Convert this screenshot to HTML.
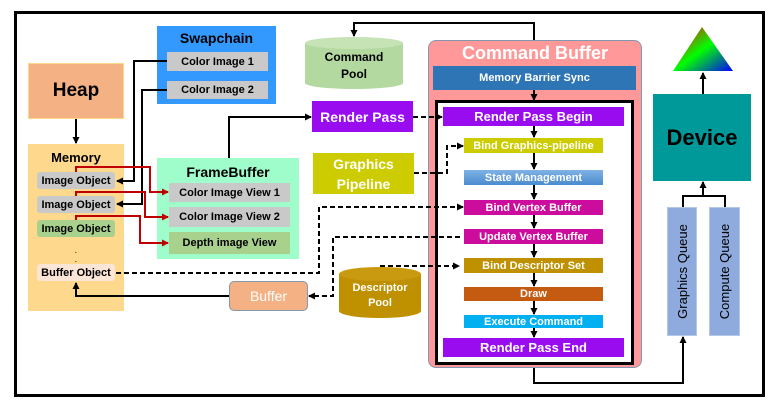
<!DOCTYPE html>
<html><head><meta charset="utf-8"><style>
body{margin:0;width:772px;height:408px;background:#fff;position:relative;overflow:hidden;font-family:"Liberation Sans",sans-serif;font-weight:bold}
.b{position:absolute;box-sizing:border-box;display:flex;align-items:center;justify-content:center;text-align:center;white-space:nowrap}
.s{font-size:11px}
svg{position:absolute;left:0;top:0}
</style></head><body>
<div class="b" style="left:14px;top:11px;width:751px;height:386px;border:3px solid #000"></div>
<div class="b" style="left:28px;top:63px;width:96px;height:56px;background:#f4b183;border:1px solid #fdd88c;font-size:19px">Heap</div>
<div class="b" style="left:28px;top:144px;width:96px;height:167px;background:#fed88c;align-items:flex-start;padding-top:6px;font-size:13px">Memory</div>
<div class="b s" style="left:37px;top:172px;width:78px;height:17px;background:#c9c9c9;border-radius:3px">Image Object</div>
<div class="b s" style="left:37px;top:196px;width:78px;height:17px;background:#c9c9c9;border-radius:3px">Image Object</div>
<div class="b s" style="left:37px;top:220px;width:78px;height:17px;background:#a9d18e;border-radius:3px">Image Object</div>
<div class="b s" style="left:37px;top:264px;width:78px;height:17px;background:#fbe5d6;border-radius:3px">Buffer Object</div>
<div class="b" style="left:157px;top:26px;width:119px;height:78px;background:#3399ff;align-items:flex-start;padding-top:4px;font-size:14px">Swapchain</div>
<div class="b s" style="left:167px;top:52px;width:101px;height:19px;background:#c9c9c9">Color Image 1</div>
<div class="b s" style="left:167px;top:81px;width:101px;height:18px;background:#c9c9c9">Color Image 2</div>
<div class="b" style="left:157px;top:158px;width:142px;height:101px;background:#9ffccb;align-items:flex-start;padding-top:6px;font-size:14px">FrameBuffer</div>
<div class="b s" style="left:169px;top:183px;width:121px;height:19px;background:#c9c9c9">Color Image View 1</div>
<div class="b s" style="left:169px;top:207px;width:121px;height:20px;background:#c9c9c9">Color Image View 2</div>
<div class="b s" style="left:169px;top:232px;width:121px;height:22px;background:#a9d18e">Depth image View</div>
<div class="b" style="left:312px;top:101px;width:101px;height:31px;background:#9a0cf0;color:#fff;font-size:14px">Render Pass</div>
<div class="b" style="left:313px;top:153px;width:101px;height:41px;background:#cccc00;color:#fff;font-size:14px;white-space:normal;line-height:20px">Graphics Pipeline</div>
<div class="b" style="left:229px;top:281px;width:79px;height:30px;background:#f4b183;border:1px solid #8497b0;border-radius:5px;color:#fff;font-size:14px;font-weight:normal">Buffer</div>
<svg width="772" height="408">
<defs><linearGradient id="g" x1="0" y1="0" x2="1" y2="1"><stop offset="0" stop-color="#ff0000"/><stop offset=".5" stop-color="#00ff00"/><stop offset="1" stop-color="#0000ff"/></linearGradient></defs>
<ellipse cx="354" cy="83" rx="49" ry="6" fill="#b3d9a0"/><rect x="305" y="43" width="98" height="40" fill="#b3d9a0"/><ellipse cx="354" cy="43" rx="49" ry="6" fill="#c5e3b5"/>
<ellipse cx="380" cy="311" rx="41" ry="7" fill="#bf9000"/><rect x="339" y="274" width="82" height="37" fill="#bf9000"/><ellipse cx="380" cy="274" rx="41" ry="7" fill="#c99a10"/>
<polygon points="702,27 733,71 673,71" fill="url(#g)"/>
<g fill="#000" font-size="6"><text x="75" y="253">.</text><text x="75" y="262">.</text></g>
</svg>
<div class="b" style="left:305px;top:48px;width:98px;height:36px;font-size:12px;white-space:normal;line-height:17px">Command<br>Pool</div>
<div class="b" style="left:339px;top:280px;width:82px;height:32px;font-size:11px;color:#fff;white-space:normal;line-height:15px">Descriptor<br>Pool</div>
<div class="b" style="left:428px;top:40px;width:214px;height:328px;background:#ff9999;border:1px solid #8497b0;border-radius:8px;align-items:flex-start;color:#fff;font-size:18px;padding-top:2px">Command Buffer</div>
<div class="b s" style="left:433px;top:66px;width:203px;height:24px;background:#2e75b6;color:#fff">Memory Barrier Sync</div>
<div class="b" style="left:435px;top:100px;width:199px;height:265px;background:#fff;border:3px solid #000"></div>
<div class="b" style="left:443px;top:107px;width:181px;height:19px;background:#9a0cf0;color:#fff;font-size:13px">Render Pass Begin</div>
<div class="b s" style="left:464px;top:138px;width:139px;height:15px;background:#cccc00;color:#fff">Bind Graphics-pipeline</div>
<div class="b s" style="left:464px;top:170px;width:139px;height:15px;background:linear-gradient(#7fb2e5,#4a8bcf);color:#fff">State Management</div>
<div class="b s" style="left:464px;top:200px;width:139px;height:15px;background:#cc0c9c;color:#fff">Bind Vertex Buffer</div>
<div class="b s" style="left:464px;top:229px;width:139px;height:15px;background:#cc0c9c;color:#fff">Update Vertex Buffer</div>
<div class="b s" style="left:464px;top:258px;width:139px;height:15px;background:#bf9000;color:#fff">Bind Descriptor Set</div>
<div class="b s" style="left:464px;top:287px;width:139px;height:14px;background:#c55a11;color:#fff">Draw</div>
<div class="b s" style="left:464px;top:315px;width:139px;height:13px;background:#00b0f0;color:#fff">Execute Command</div>
<div class="b" style="left:443px;top:338px;width:181px;height:19px;background:#9a0cf0;color:#fff;font-size:13px">Render Pass End</div>
<div class="b" style="left:653px;top:94px;width:98px;height:87px;background:#009999;font-size:22px">Device</div>
<div class="b" style="left:667px;top:207px;width:30px;height:129px;background:#8faadc;border:1px solid #b4c7e7"><span style="transform:rotate(-90deg);font-size:13px;font-weight:normal;display:block">Graphics Queue</span></div>
<div class="b" style="left:709px;top:207px;width:31px;height:129px;background:#8faadc;border:1px solid #b4c7e7"><span style="transform:rotate(-90deg);font-size:13px;font-weight:normal;display:block">Compute Queue</span></div>
<svg width="772" height="408">
<defs>
<marker id="a" markerUnits="userSpaceOnUse" markerWidth="7" markerHeight="7" refX="6" refY="3.5" orient="auto"><path d="M0,0L7,3.5L0,7z" fill="#000"/></marker>
<marker id="r" markerUnits="userSpaceOnUse" markerWidth="7" markerHeight="7" refX="6" refY="3.5" orient="auto"><path d="M0,0L7,3.5L0,7z" fill="#c00000"/></marker>
</defs>
<g fill="none" stroke="#000" stroke-width="2">
<path d="M76 119V143" marker-end="url(#a)"/>
<path d="M167 61H134V181H117" marker-end="url(#a)"/>
<path d="M167 90H142V204H117" marker-end="url(#a)"/>
<path d="M229 158V117H311" marker-end="url(#a)"/>
<path d="M534 40V23H354V36" marker-end="url(#a)"/>
<path d="M534 368V383H683V337" marker-end="url(#a)"/>
<path d="M683 207V196H725V207M703 196V182" marker-end="url(#a)"/>
<path d="M703 94V73" marker-end="url(#a)"/>
<path d="M229 296H76V283" marker-end="url(#a)"/>
<path d="M534 90V100" marker-end="url(#a)"/>
<path d="M534 126V137" marker-end="url(#a)"/>
<path d="M534 153V169" marker-end="url(#a)"/>
<path d="M534 185V199" marker-end="url(#a)"/>
<path d="M534 215V228" marker-end="url(#a)"/>
<path d="M534 244V257" marker-end="url(#a)"/>
<path d="M534 273V286" marker-end="url(#a)"/>
<path d="M534 301V314" marker-end="url(#a)"/>
<path d="M534 328V337" marker-end="url(#a)"/>
</g>
<g fill="none" stroke="#000" stroke-width="2" stroke-dasharray="5,3">
<path d="M413 117H442" marker-end="url(#a)"/>
<path d="M414 173H447V146H463" marker-end="url(#a)"/>
<path d="M116 273H319V207H463" marker-end="url(#a)"/>
<path d="M460 237H333V296H309" marker-end="url(#a)"/>
<path d="M380 266H459" marker-end="url(#a)"/>
</g>
<g fill="none" stroke="#c00000" stroke-width="2">
<path d="M76 172V167H150V192H168" marker-end="url(#r)"/>
<path d="M76 196V192H145V217H168" marker-end="url(#r)"/>
<path d="M76 220V216H140V243H168" marker-end="url(#r)"/>
</g>
</svg>
</body></html>
